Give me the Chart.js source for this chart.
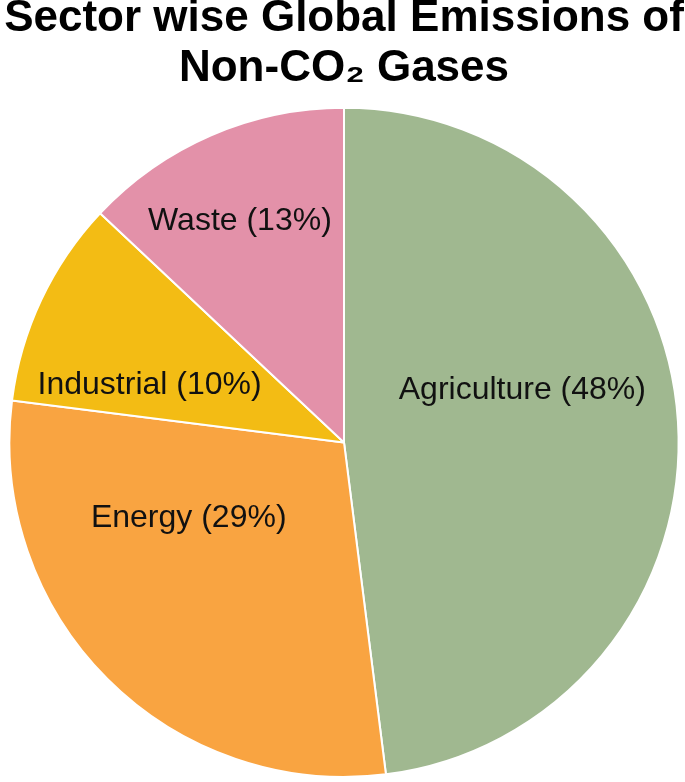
<!DOCTYPE html>
<html lang="en">
<head>
  <meta charset="UTF-8">
  <title>Sector wise Global Emissions of Non-CO2 Gases</title>
  <script src="https://cdn.jsdelivr.net/npm/chart.js"></script>
  <style>
    html,body { margin:0; padding:0; background:#fff; }
    .wrap { width:685px; height:782px; }
  </style>
</head>
<body>
<div class="wrap"><canvas id="pieChart" width="685" height="782"></canvas></div>

<script>
  // data
  const sectors = ["Agriculture", "Energy", "Industrial", "Waste"];
  const shares = [48, 29, 10, 13];
  const sliceColors = ["#a0b890", "#f9a441", "#f3bc14", "#e391a9"];

  // where each label sits, relative to centre, in units of the radius
  const labelSpots = [[0.533, -0.156], [-0.464, 0.227], [-0.581, -0.171], [-0.311, -0.662]];

  const sliceLabels = {
    id: "sliceLabels",
    afterDatasetsDraw(chart) {
      const ctx = chart.ctx;
      const arcs = chart.getDatasetMeta(0).data;
      ctx.save();
      ctx.font = "32px 'Liberation Sans', Arial, sans-serif";
      ctx.fillStyle = "#111";
      ctx.textAlign = "center";
      ctx.textBaseline = "middle";
      arcs.forEach((arc, i) => {
        const r = arc.outerRadius;
        const txt = sectors[i] + " (" + shares[i] + "%)";
        ctx.fillText(txt, arc.x + labelSpots[i][0] * r, arc.y + labelSpots[i][1] * r);
      });
      ctx.restore();
    }
  };

  new Chart(document.getElementById("pieChart"), {
    type: "pie",
    data: {
      labels: sectors,
      datasets: [{
        data: shares,
        backgroundColor: sliceColors,
        borderColor: "#fff",
        borderWidth: 2
      }]
    },
    options: {
      responsive: false,
      animation: false,
      layout: { padding: { left: 3, right: 0, top: 0, bottom: 4 } },
      plugins: {
        legend: { display: false },
        tooltip: { enabled: false },
        title: {
          display: true,
          text: "Sector wise Global Emissions of",
          color: "#000",
          font: { family: "'Liberation Sans', Arial, sans-serif", size: 44, weight: "bold", lineHeight: 0.85 },
          padding: { top: 0, bottom: 7 }
        },
        subtitle: {
          display: true,
          text: "Non-CO\u2082 Gases",
          color: "#000",
          font: { family: "'Liberation Sans', Arial, sans-serif", size: 44, weight: "bold", lineHeight: 0.85 },
          padding: { top: 6, bottom: 19 }
        }
      }
    },
    plugins: [sliceLabels]
  });
</script>
</body>
</html>
